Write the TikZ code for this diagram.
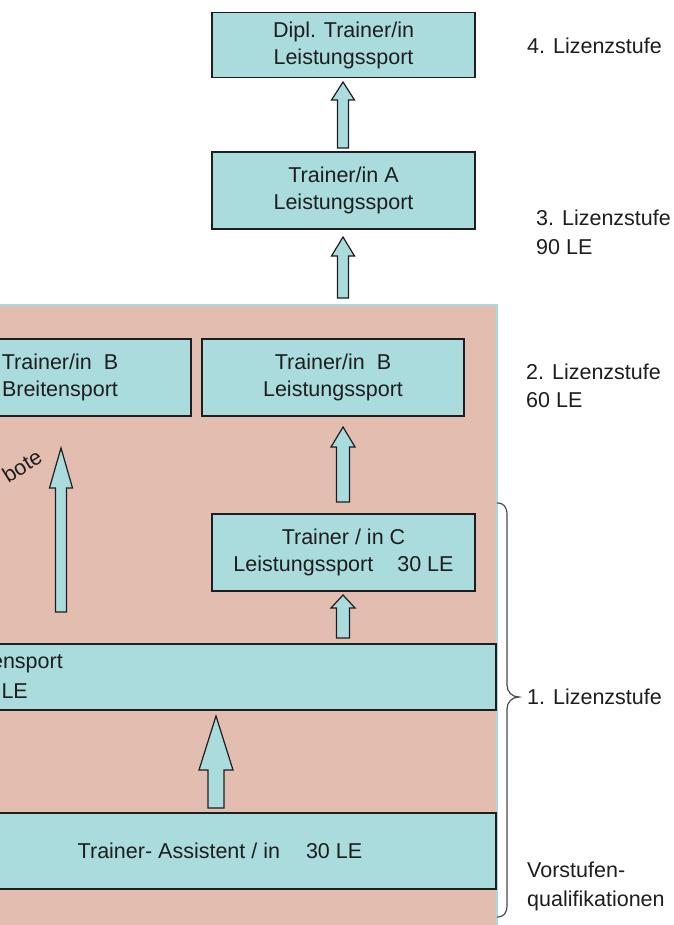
\documentclass[tikz,border=0pt]{standalone}
\usepackage{fontspec}
\setmainfont{Liberation Sans}
\definecolor{boxfill}{RGB}{170,220,222}
\definecolor{pinkbg}{RGB}{226,189,176}
\definecolor{pinkedge}{RGB}{168,218,222}
\definecolor{ink}{RGB}{30,30,30}
\newcommand\fs{\fontsize{21.5}{27}\selectfont}
\newcommand\fsl{\fontsize{21.5}{28.5}\selectfont}
\tikzset{
  lbox/.style={draw=ink, line width=1.3pt, fill=boxfill, align=center, inner sep=0pt, font=\fs, text=ink},
  lbl/.style={align=left, anchor=west, font=\fsl, text=ink, inner sep=0pt},
  frag/.style={font=\fs, text=ink, inner sep=0pt},
  blk/.style={draw=ink, line width=1.2pt, fill=boxfill, line join=miter},
  bracestyle/.style={draw=ink!80, line width=1.2pt},
}
% block arrow: center x, bottom y, head base y, tip y, half shaft, half head
\newcommand\blockup[6]{%
  \draw[blk] (#1-#5,#2) -- (#1-#5,#3) -- (#1-#6,#3) -- (#1,#4) -- (#1+#6,#3) -- (#1+#5,#3) -- (#1+#5,#2) -- cycle;}
\begin{document}
\begin{tikzpicture}[x=1pt,y=-1pt]
\useasboundingbox (0,0) rectangle (673,925);
\clip (0,0) rectangle (673,925);
\fill[white] (0,0) rectangle (673,925);

% pink region
\fill[pinkbg] (-5,305) rectangle (497,930);
\draw[pinkedge, line width=2pt] (-5,305) -- (497,305) -- (497,930);

% boxes
\node[lbox, minimum width=263pt, minimum height=65pt] (dipl) at (343.5,45) {Dipl. Trainer/in\\Leistungssport};
\node[lbox, minimum width=263pt, minimum height=77pt] (trA) at (343.5,190.5) {Trainer/in A\\Leistungssport};
\node[lbox, minimum width=262pt, minimum height=77pt] (trBB) at (60,377.5) {Trainer/in\ \ B\\Breitensport};
\node[lbox, minimum width=262pt, minimum height=77pt] (trBL) at (333,377.5) {Trainer/in\ \ B\\Leistungssport};
\node[lbox, minimum width=263pt, minimum height=77pt] (trC) at (343.5,552.5) {Trainer / in C\\Leistungssport\hspace{24pt}30 LE};
\node[lbox, minimum width=552pt, minimum height=66pt] (breit) at (220,677) {};
\node[frag, anchor=base east] (breit1) at (63,668) {ensport};
\node[frag, anchor=base east] (breit2) at (28,698) {LE};
\node[lbox, minimum width=552pt, minimum height=76pt] (assist) at (220,851) {Trainer-\ Assistent / in\hspace{26pt}30 LE};

% rotated fragment
\node[frag, rotate=32] (bote) at (22,466) {bote};

% block arrows
\blockup{343}{148}{100}{82}{5.5}{11.5}
\blockup{343}{298}{256}{237}{5.5}{11.5}
\blockup{343}{502}{447}{427}{6.5}{12}
\blockup{343}{638}{608}{595}{6.5}{12}
\blockup{216}{808}{770}{716}{8}{17}
\blockup{61}{612}{488}{448}{5.5}{11.5}

% brace
\draw[bracestyle] (497,503) .. controls (504,503) and (507,507) .. (507,515)
  -- (507,685) .. controls (507,692) and (512,697) .. (519,697)
  .. controls (512,697) and (507,702) .. (507,709)
  -- (507,905) .. controls (507,913) and (504,917) .. (497,917);

% right labels
\node[lbl] (l4) at (527,46) {4. Lizenzstufe};
\node[lbl] (l3) at (536,232.5) {3. Lizenzstufe\\90 LE};
\node[lbl] (l2) at (526,386) {2. Lizenzstufe\\60 LE};
\node[lbl] (l1) at (527,697) {1. Lizenzstufe};
\node[lbl] (l0) at (527,886.5) {Vorstufen-\\qualifikationen};
\end{tikzpicture}
\end{document}
